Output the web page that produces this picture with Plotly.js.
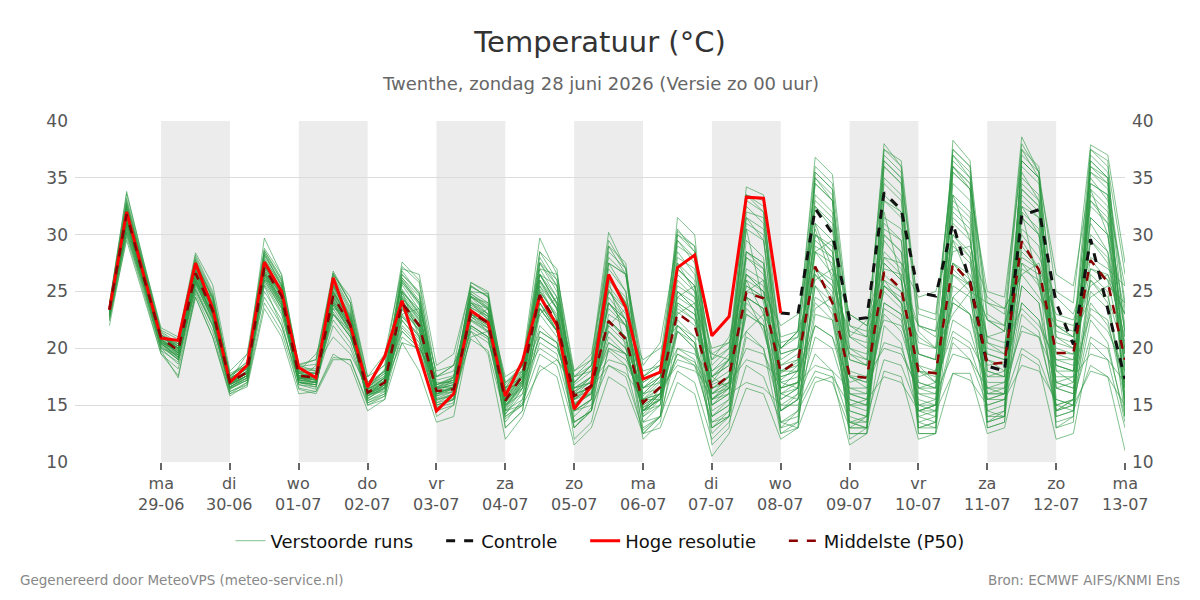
<!DOCTYPE html>
<html>
<head>
<meta charset="utf-8">
<script src="https://cdn.plot.ly/plotly-3.0.1.min.js"></script>
<style>html,body{margin:0;padding:0;background:#fff;}#chart{width:1200px;height:600px;}</style>
</head>
<body>
<div id="chart"></div>
<script>
// time axis: 6-hourly steps from 28-06 06:00 to 13-07 00:00 (60 points)
const startTime = '2026-06-28T06:00:00';
const stepHours = 6;
const nPoints = 60;

const tickDates = ['2026-06-29','2026-06-30','2026-07-01','2026-07-02','2026-07-03','2026-07-04','2026-07-05','2026-07-06','2026-07-07','2026-07-08','2026-07-09','2026-07-10','2026-07-11','2026-07-12','2026-07-13'];
const tickDays = ['ma','di','wo','do','vr','za','zo','ma','di','wo','do','vr','za','zo','ma'];
const tickLabels = ['29-06','30-06','01-07','02-07','03-07','04-07','05-07','06-07','07-07','08-07','09-07','10-07','11-07','12-07','13-07'];
const shadedDays = [['2026-06-29','2026-06-30'],['2026-07-01','2026-07-02'],['2026-07-03','2026-07-04'],['2026-07-05','2026-07-06'],['2026-07-07','2026-07-08'],['2026-07-09','2026-07-10'],['2026-07-11','2026-07-12']];
const seriesNames = ['Verstoorde runs','Controle','Hoge resolutie','Middelste (P50)'];

// Hoge resolutie (first 40 points, up to 08-07 00:00)
const hres = [23.4,32.0,26.4, 20.9,20.7,27.5,23.5, 17.0,18.5,27.6,25.0, 18.3,17.4,26.2,22.0, 16.6,19.3,24.2,19.4, 14.5,16.0,23.3,22.25, 15.8,18.9,24.6,22.0, 14.65,16.7,26.5,23.6, 17.3,17.9,27.1,28.2, 21.1,22.8,33.3,33.2, 23.1];
// Controle (from 08-07 00:00, index 39)
const controlStart = 39;
const control = [23.1,23.0,32.3,30.1, 22.5,22.7,33.7,32.2, 24.9,24.6,31.0,25.8, 18.45,18.0,31.7,32.2, 24.0,20.35,29.6,23.4, 17.3];
// Middelste (P50)
const p50 = [23.4,31.8,26.2, 20.9,19.8,26.6,23.3, 17.0,17.9,27.1,24.6, 17.6,17.4,24.6,22.0, 16.1,17.0,24.0,22.0, 16.25,16.4,23.1,22.25, 15.4,17.6,24.7,22.25, 15.8,16.7,22.4,20.8, 15.2,16.6,23.1,22.0, 16.4,17.6,24.9,24.4, 17.9,18.9,27.2,24.0, 17.6,17.4,26.7,25.2, 18.0,17.8,27.45,25.8, 18.6,18.75,29.4,26.9, 19.6,19.6,27.75,25.8, 19.0];

// Verstoorde runs (ensemble members)
const m01 = [23.5,32.8,27.0, 21.0,20.6,27.8,24.2, 17.2,18.4,28.0,25.4, 17.8,17.6,25.8,22.6, 16.4,18.2,25.6,23.4, 15.8,17.5,24.8,23.6, 15.2,17.2,26.5,23.8, 15.0,16.2,25.2,22.5, 14.2,15.8,26.0,24.5, 15.5,16.8,29.5,28.0, 16.5,18.0,32.5,30.5, 17.5,16.5,34.5,33.0, 18.5,17.0,36.5,35.0, 20.5,19.5,35.5,33.0, 18.0,17.0,33.5,32.0, 22.0];
const m02 = [23.2,31.5,26.2, 20.5,19.8,26.2,23.0, 16.8,17.6,27.2,24.8, 17.4,17.0,24.8,21.8, 15.8,16.5,23.5,21.5, 16.0,16.2,22.5,21.8, 14.8,17.0,24.0,21.5, 15.5,16.5,21.5,20.0, 14.5,15.5,22.0,20.5, 14.0,15.0,23.5,22.0, 15.0,16.0,25.5,23.0, 14.5,14.0,26.0,24.0, 15.0,14.5,27.5,25.5, 16.5,16.0,29.0,27.0, 17.0,16.5,26.0,24.0, 16.5];
const m03 = [23.0,30.5,25.5, 20.2,19.0,25.8,22.5, 16.5,17.2,26.5,24.0, 17.0,16.8,23.8,21.5, 15.5,16.8,22.0,20.5, 15.0,15.5,21.8,20.8, 14.5,15.5,20.5,19.5, 13.5,14.5,19.8,18.5, 12.5,14.0,20.0,19.0, 13.0,14.5,21.5,20.0, 14.5,15.5,19.5,18.0, 13.5,13.0,22.0,20.5, 14.0,14.5,20.5,19.0, 15.0,15.5,23.0,21.5, 14.5,15.0,22.5,20.5, 13.5];
const m04 = [23.8,33.2,27.4, 21.4,20.2,27.5,24.5, 17.4,18.2,27.8,25.6, 18.0,17.8,25.5,22.8, 16.6,17.4,25.8,23.8, 16.4,16.8,24.2,23.0, 15.8,18.0,27.0,24.5, 16.2,17.5,27.5,25.0, 16.0,17.5,28.5,26.5, 17.5,19.0,32.5,31.0, 19.0,20.0,35.0,33.5, 20.0,19.0,37.0,35.5, 21.5,20.0,37.5,36.0, 23.0,22.0,38.0,35.5, 21.0,20.0,36.5,35.0, 24.0];
const m05 = [23.4,31.2,26.0, 20.8,19.5,26.4,23.2, 17.0,17.8,26.8,24.4, 17.5,17.2,24.2,21.8, 16.0,16.8,24.2,22.2, 16.5,16.6,23.0,22.4, 15.6,17.8,25.0,22.8, 16.2,17.0,22.5,21.0, 15.8,17.2,23.8,22.5, 17.0,18.0,24.5,23.5, 18.5,19.5,26.5,24.5, 18.0,17.5,25.5,24.0, 17.5,18.0,24.0,23.0, 19.5,19.0,27.5,25.5, 20.0,19.5,26.0,24.5, 19.5];
const m06 = [23.6,32.0,26.6, 20.6,19.6,27.0,23.6, 16.6,17.4,27.6,25.0, 17.2,17.0,25.0,22.2, 15.6,16.4,25.2,23.0, 15.4,16.0,24.5,23.0, 14.6,16.8,26.0,23.5, 14.5,15.5,26.5,24.0, 13.5,15.0,27.5,26.0, 14.0,15.5,31.0,30.0, 14.5,16.0,33.5,32.0, 13.5,13.0,35.0,33.5, 13.5,13.0,36.0,34.5, 14.0,14.5,36.5,35.0, 14.0,14.5,35.5,34.0, 15.0];
const m07 = [22.8,30.8,25.8, 20.4,19.2,25.2,22.0, 16.8,18.0,26.0,23.5, 17.6,17.4,23.0,21.0, 16.2,17.2,21.5,20.0, 17.0,17.0,21.5,20.5, 16.5,17.5,20.0,19.0, 16.5,17.0,19.0,18.5, 16.0,16.5,18.5,18.0, 16.5,17.0,19.0,18.5, 17.5,18.0,22.0,21.0, 17.0,17.5,20.0,19.5, 16.5,17.0,21.5,20.5, 17.5,18.0,24.0,22.5, 18.5,18.0,23.0,21.5, 18.0];
const m08 = [23.3,31.8,26.4, 21.2,20.0,26.8,23.4, 17.1,17.8,27.4,24.8, 17.8,17.4,24.5,22.0, 16.2,17.0,24.6,22.6, 16.2,16.6,23.4,22.2, 15.4,17.4,25.2,22.6, 15.8,17.2,24.0,22.0, 15.5,17.0,25.0,23.5, 16.8,17.5,26.5,25.0, 17.2,18.5,28.5,26.5, 17.5,17.0,29.5,27.5, 18.0,17.5,31.0,29.5, 19.5,19.0,32.5,30.0, 20.5,20.0,31.0,28.5, 20.5];
const m09 = [23.0,31.0,25.8, 20.0,19.4,25.8,22.4, 16.2,17.0,26.2,23.8, 16.8,16.6,24.0,21.4, 15.4,16.0,23.0,21.0, 14.8,15.2,22.0,21.0, 13.8,15.0,23.0,21.0, 13.0,14.5,22.5,21.0, 12.0,13.5,21.5,20.0, 12.5,14.0,24.0,22.5, 13.0,14.5,25.5,24.0, 12.5,12.5,27.5,26.0, 13.0,13.0,29.5,28.0, 13.5,14.0,31.5,30.0, 13.5,14.0,33.0,31.5, 14.5];
const m10 = [24.0,33.6,27.6, 21.6,20.8,28.2,25.0, 17.6,18.8,28.6,26.0, 18.2,18.2,26.4,23.6, 16.8,17.8,26.8,24.8, 16.6,17.0,25.5,24.5, 16.5,18.5,28.0,25.5, 17.0,18.5,29.5,27.0, 17.5,19.0,30.5,28.5, 18.5,20.0,33.5,32.0, 20.0,21.5,36.0,34.5, 21.0,20.5,38.0,36.0, 22.0,21.5,37.0,35.0, 22.5,21.5,37.5,35.0, 22.0,21.0,37.5,36.0, 26.5];
const m11 = [23.1,31.0,25.8, 20.6,19.2,26.0,23.0, 16.9,17.6,26.4,23.8, 17.4,17.0,23.5,21.2, 16.0,16.2,22.8,21.0, 15.5,15.8,22.5,21.5, 15.0,16.5,23.5,21.5, 15.5,16.0,21.0,19.5, 14.8,15.5,21.5,20.5, 15.5,16.5,23.0,22.0, 16.5,17.0,24.0,22.5, 16.0,15.5,23.0,21.5, 16.5,16.0,24.5,23.0, 17.0,17.0,25.5,24.0, 17.0,16.5,24.0,22.0, 17.0];
const m12 = [23.5,32.2,26.8, 20.9,20.4,27.2,24.0, 17.2,18.2,27.6,25.0, 17.6,17.6,25.2,22.4, 16.4,17.2,26.0,24.0, 16.8,17.5,25.0,24.0, 16.0,18.5,28.5,26.0, 16.8,18.0,29.0,26.5, 15.5,16.5,30.0,28.5, 16.0,17.5,33.5,32.5, 17.5,18.0,35.5,34.0, 15.5,15.0,36.0,34.5, 16.0,15.5,38.3,36.5, 18.0,17.5,36.0,34.5, 16.5,16.0,37.0,35.5, 21.0];
const m13 = [22.6,30.0,25.2, 19.8,18.8,25.4,22.2, 16.4,17.4,25.8,23.2, 17.0,17.6,22.5,20.5, 15.8,16.5,21.0,19.8, 15.5,16.0,20.8,19.8, 14.0,15.2,19.5,18.5, 13.0,14.8,18.5,17.5, 12.8,14.0,18.0,17.0, 12.0,13.5,18.5,17.5, 13.5,14.5,17.5,17.0, 13.0,14.0,19.0,18.5, 14.5,15.0,21.0,20.0, 15.5,15.5,20.0,19.0, 15.0,14.5,18.5,17.5, 11.0];
const m14 = [23.3,31.4,26.2, 20.9,19.8,26.6,23.4, 17.0,17.9,27.0,24.6, 17.6,17.3,24.6,22.0, 16.0,17.0,24.0,22.0, 16.2,16.4,23.2,22.3, 15.4,17.6,24.8,22.2, 15.8,16.8,22.4,20.8, 15.2,16.6,23.2,22.0, 16.4,17.6,25.0,24.5, 17.8,18.8,27.0,24.0, 17.6,17.4,26.5,25.0, 18.0,17.8,27.5,26.0, 18.5,18.8,29.5,27.0, 19.6,19.5,27.8,26.0, 19.0];
const m15 = [23.7,32.6,27.0, 21.0,20.0,27.4,24.0, 16.8,17.6,28.2,25.8, 17.2,17.0,26.2,23.4, 15.8,16.8,26.5,24.8, 15.2,16.0,25.8,24.8, 14.2,16.5,27.5,25.5, 14.0,15.5,28.5,27.0, 14.5,15.5,29.5,28.0, 15.0,16.0,32.0,31.5, 15.5,16.5,34.5,33.0, 14.5,14.0,36.5,35.0, 14.0,13.5,35.5,34.0, 14.5,14.0,37.0,35.5, 15.5,15.0,36.0,35.0, 17.5];
const m16 = [23.2,31.6,26.2, 20.7,19.6,26.0,22.8, 16.9,17.8,26.6,24.0, 17.8,17.4,24.0,21.6, 16.2,17.0,23.4,21.6, 16.5,16.8,24.0,22.8, 15.8,17.8,26.5,24.0, 16.5,17.0,24.0,22.5, 15.0,16.0,21.5,20.0, 15.5,16.5,25.5,24.5, 18.0,19.0,30.0,28.5, 19.5,19.0,25.0,23.5, 17.0,16.5,22.5,21.5, 16.5,16.5,27.0,26.0, 19.0,18.5,29.5,27.5, 20.0];
const m17 = [23.9,33.0,27.2, 21.5,20.4,28.0,24.8, 17.5,18.6,29.7,26.5, 18.4,18.6,26.6,24.0, 17.0,18.6,27.6,26.0, 17.5,18.5,25.8,25.0, 16.5,18.8,29.7,26.5, 17.5,19.0,30.2,27.0, 16.5,18.0,30.3,29.0, 17.0,19.0,34.2,33.5, 20.0,21.5,36.8,35.3, 22.0,21.0,37.5,36.5, 23.0,22.5,36.0,34.5, 24.0,23.0,38.6,35.5, 25.0,24.0,37.9,37.0, 27.5];
const m18 = [22.9,30.6,25.6, 20.3,19.0,25.6,22.6, 16.6,17.4,26.2,23.6, 17.0,17.0,22.0,20.0, 16.0,16.6,21.8,20.2, 16.5,17.0,22.0,21.0, 15.0,16.0,21.0,20.0, 15.5,16.5,20.5,19.5, 15.5,16.0,19.5,18.8, 16.0,16.5,20.0,19.5, 16.5,17.0,18.5,18.0, 16.5,16.5,20.5,20.0, 16.0,16.0,19.5,19.0, 16.5,17.0,21.5,21.0, 17.5,17.5,19.5,19.0, 17.0];
const m19 = [23.4,32.0,26.6, 21.0,20.2,26.4,23.6, 17.1,18.0,27.4,24.6, 17.6,17.6,25.4,22.6, 16.3,17.4,24.8,22.8, 16.0,16.6,23.8,22.8, 15.6,17.6,25.8,23.4, 15.6,16.8,25.0,23.0, 16.0,17.5,25.5,24.5, 17.5,19.0,28.0,26.5, 19.5,20.0,29.5,28.0, 20.0,19.5,28.5,27.0, 20.5,20.0,30.0,28.0, 21.0,21.5,31.5,30.0, 22.0,21.5,33.0,31.0, 23.0];
const m20 = [23.0,31.2,25.8, 20.4,19.4,26.2,22.8, 16.4,17.2,26.8,24.2, 17.0,16.6,24.4,21.8, 15.2,15.8,23.8,21.8, 15.0,15.5,23.5,22.0, 13.5,15.5,24.0,22.0, 13.0,14.5,24.5,22.5, 12.5,14.0,25.0,23.5, 11.5,13.0,24.5,23.5, 12.5,13.0,27.0,26.0, 12.0,13.0,28.0,26.5, 12.5,12.5,26.5,25.0, 13.0,13.5,27.5,26.5, 13.0,14.0,26.5,25.0, 14.0];
const m21 = [23.6,32.4,26.8, 21.1,20.0,27.2,23.8, 17.0,18.0,28.4,25.5, 17.9,17.8,25.6,22.8, 16.6,17.8,26.2,24.2, 16.8,17.2,24.5,23.5, 16.2,18.2,27.5,25.0, 17.0,18.5,26.5,24.0, 16.5,17.5,27.0,25.5, 18.0,19.5,31.5,29.5, 20.5,21.0,33.0,31.5, 21.0,20.0,30.0,28.5, 19.5,19.0,32.5,31.0, 20.0,19.5,34.5,33.0, 21.5,21.0,35.5,34.5, 23.5];
const m22 = [23.1,31.4,26.0, 20.6,19.4,26.6,23.2, 16.8,17.6,26.8,24.2, 17.2,17.0,24.0,21.6, 15.8,16.6,24.2,22.0, 16.2,16.4,23.0,22.0, 15.2,17.0,24.5,21.5, 16.0,16.5,20.0,19.0, 15.5,15.5,19.5,18.5, 13.5,14.0,21.0,20.0, 12.5,13.5,23.0,22.5, 13.5,14.0,25.5,24.5, 14.5,15.0,27.0,25.5, 15.5,16.0,25.5,24.0, 14.5,15.5,23.5,22.5, 15.5];
const m23 = [23.5,32.0,26.6, 20.8,19.8,27.0,23.8, 17.0,17.8,27.8,25.2, 17.4,17.2,25.4,22.6, 16.0,17.2,25.0,23.4, 16.0,16.6,24.6,23.6, 15.4,17.2,26.0,24.0, 15.5,16.8,27.0,25.0, 15.0,16.0,28.0,27.0, 16.0,17.0,30.5,29.5, 17.0,17.5,32.5,31.0, 17.5,17.0,33.0,31.5, 17.0,16.5,33.5,32.0, 18.0,17.5,34.0,32.5, 18.5,18.0,34.5,33.5, 19.5];
const m24 = [22.7,30.2,25.4, 20.1,19.0,25.2,22.0, 16.6,17.6,25.6,23.0, 17.4,17.4,23.2,21.0, 16.4,17.4,22.4,20.8, 16.8,17.2,22.8,21.5, 16.4,17.0,21.0,20.0, 16.0,16.5,18.5,17.8, 15.5,16.0,19.0,18.5, 15.5,16.0,17.0,16.5, 15.0,15.0,18.0,17.5, 15.0,15.5,17.5,17.0, 14.5,14.5,17.8,17.2, 15.0,15.5,18.5,18.0, 15.5,15.0,18.0,17.5, 15.0];
const m25 = [23.3,32.2,26.6, 20.8,19.7,26.8,23.6, 16.8,17.6,27.4,24.8, 17.3,17.0,25.0,22.4, 15.6,16.5,25.0,23.2, 15.6,16.2,24.6,23.4, 14.8,16.8,26.0,23.5, 14.5,15.5,25.5,23.5, 14.0,15.5,26.5,25.0, 14.5,15.5,28.5,27.5, 14.5,15.5,31.0,29.5, 13.5,13.5,33.5,32.0, 13.0,13.5,34.5,33.0, 13.5,14.5,35.0,33.5, 14.5,15.5,34.0,32.5, 15.0];
const m26 = [23.5,31.6,26.4, 21.2,20.2,26.4,23.6, 17.3,18.4,26.6,24.8, 18.2,18.0,24.8,22.6, 16.8,18.0,24.4,22.8, 17.2,17.6,23.6,22.8, 16.8,18.5,25.0,23.0, 17.5,18.0,23.5,22.0, 17.0,18.0,24.0,23.0, 18.0,19.0,25.5,24.5, 20.0,21.0,27.0,25.5, 21.5,21.0,26.0,25.0, 22.0,21.5,27.5,26.5, 22.5,22.0,28.0,27.0, 23.0,22.5,27.0,26.0, 23.0];
const m27 = [23.2,31.8,26.4, 20.7,19.9,26.8,23.4, 16.9,17.8,27.2,24.6, 17.5,17.2,24.6,22.0, 16.0,17.0,24.4,22.4, 16.0,16.4,23.6,22.6, 15.2,17.2,24.0,21.5, 15.0,16.0,20.5,19.5, 14.5,16.0,24.0,23.0, 16.5,17.5,28.5,27.5, 18.0,18.5,27.0,25.5, 16.5,16.0,31.5,30.5, 18.5,18.0,29.0,27.5, 19.0,18.5,30.5,29.0, 19.5,19.0,31.5,30.0, 21.5];
const m28 = [22.9,30.8,25.6, 20.4,19.2,25.8,22.6, 16.6,17.6,26.4,23.8, 17.4,17.2,23.8,21.4, 16.0,16.8,22.8,21.2, 16.4,16.8,22.4,21.4, 15.5,16.5,22.0,20.5, 15.0,16.0,21.5,20.0, 14.5,15.5,22.5,21.0, 14.0,15.0,23.0,22.0, 14.5,15.5,21.0,20.0, 15.0,15.0,23.5,22.5, 15.0,15.5,24.0,23.0, 15.5,16.0,22.0,21.0, 15.0,15.5,21.0,20.0, 14.0];
const m29 = [23.6,32.6,27.0, 21.0,20.2,27.6,24.4, 17.3,18.2,28.2,25.6, 17.9,17.8,26.0,23.2, 16.2,17.4,26.2,24.6, 16.0,16.6,25.4,24.6, 15.0,17.0,27.6,26.0, 15.0,16.5,29.0,27.5, 14.5,16.5,31.5,30.0, 15.5,17.0,33.5,33.0, 16.0,17.0,35.5,34.0, 15.0,14.5,36.0,34.5, 15.0,15.0,37.5,36.0, 16.0,16.0,36.5,35.0, 16.5,17.0,36.0,34.5, 18.0];
const m30 = [23.3,31.2,26.0, 20.6,19.6,26.2,23.0, 16.8,17.6,26.6,24.2, 17.6,17.2,24.2,21.8, 15.9,16.8,23.6,21.6, 15.8,16.2,22.8,21.8, 15.0,16.8,23.5,21.5, 15.2,16.0,22.5,21.0, 14.8,16.0,23.5,22.5, 16.0,17.0,26.0,25.0, 16.5,17.0,24.5,23.5, 16.0,15.5,24.0,23.0, 15.5,15.0,25.5,24.5, 16.0,16.0,24.0,22.5, 16.5,16.0,25.0,23.5, 16.0];
const m31 = [23.0,30.2,25.0, 20.0,18.6,24.8,21.5, 16.0,17.0,25.5,22.0, 17.2,18.5,21.0,19.5, 16.5,17.0,20.5,20.0, 17.5,18.5,23.0,22.0, 14.5,15.0,18.0,19.0, 17.0,18.5,24.0,22.0, 19.0,20.0,22.0,21.0, 19.5,19.0,21.5,23.0, 20.0,21.5,26.0,27.0, 23.0,22.0,25.5,24.0, 21.0,20.0,23.0,25.0, 24.0,23.5,26.5,24.5, 22.0,21.0,24.5,25.5, 24.0];
const m32 = [23.4,31.8,26.2, 20.8,19.6,26.2,23.0, 17.2,19.5,26.0,23.5, 18.0,19.5,23.0,21.0, 16.8,17.5,26.5,25.0, 17.5,18.0,24.0,23.5, 17.5,18.5,26.5,24.0, 18.0,19.0,25.0,23.5, 17.5,18.5,23.0,24.0, 19.0,21.0,26.5,25.0, 22.0,23.0,30.5,26.0, 21.0,22.5,28.0,27.5, 24.5,25.0,29.5,26.0, 22.5,21.5,30.0,28.0, 24.5,23.0,28.0,27.0, 25.5];
const m33 = [22.5,29.5,24.5, 19.5,18.2,24.5,21.0, 15.8,16.8,24.0,21.5, 16.5,16.2,19.5,18.5, 14.5,15.5,20.5,18.0, 13.5,14.0,21.5,19.5, 12.0,14.0,18.5,17.5, 11.5,13.0,17.5,16.5, 12.5,13.0,17.0,16.0, 10.5,12.5,16.5,16.0, 12.0,13.0,17.0,17.5, 11.5,12.5,18.0,17.5, 12.0,12.5,17.8,17.8, 12.5,13.0,19.5,18.5, 12.0,12.5,20.5,19.0, 13.0];
const m34 = [23.6,32.4,26.8, 21.2,20.4,27.8,24.6, 17.6,18.8,28.6,26.2, 18.5,19.0,26.8,24.0, 17.5,19.5,27.0,26.5, 18.5,19.5,25.5,24.5, 17.0,18.5,27.0,26.5, 18.0,19.5,28.0,26.5, 18.5,20.5,29.5,27.5, 19.5,20.5,26.0,23.0, 17.0,16.5,22.0,21.0, 15.5,15.0,24.0,23.0, 14.5,15.0,26.5,25.5, 16.0,16.5,28.5,27.0, 17.0,17.5,29.5,28.0, 19.5];
const m35 = [22.0,29.8,24.8, 19.5,17.6,24.5,21.0, 16.0,16.6,23.5,21.0, 16.0,16.2,19.2,19.0, 15.0,15.8,21.5,20.0, 14.0,15.0,23.0,22.5, 13.0,14.5,23.5,22.5, 12.0,13.5,20.0,19.5, 14.5,15.0,22.0,20.5, 13.0,14.0,24.5,23.5, 13.5,13.0,26.5,25.0, 13.0,13.0,30.0,28.5, 13.5,14.0,32.0,30.5, 14.5,15.0,33.0,31.5, 15.0,15.5,31.5,30.0, 16.5];
const m36 = [23.7,33.8,27.5, 21.8,21.0,28.4,25.6, 18.0,19.5,28.8,26.5, 18.6,19.0,26.5,24.5, 17.5,18.5,26.0,24.0, 16.5,17.5,24.5,24.0, 16.0,17.5,26.5,25.5, 16.5,17.5,27.5,26.5, 17.5,18.5,29.0,28.0, 19.0,20.0,31.5,30.5, 21.0,21.5,34.5,33.0, 22.0,21.5,36.5,35.0, 23.5,23.0,36.0,34.0, 25.0,24.5,36.5,35.0, 26.5,25.5,35.0,33.0, 25.5];
const m37 = [23.4,31.2,26.6, 21.0,20.0,25.8,24.5, 17.6,18.5,26.0,25.5, 18.5,18.0,23.5,23.0, 17.0,18.0,23.0,23.5, 18.0,18.5,22.5,23.5, 17.0,18.0,23.0,24.5, 17.5,18.5,22.0,23.5, 18.0,18.5,24.5,25.5, 20.0,20.5,25.0,26.0, 19.5,20.0,28.5,29.5, 23.0,22.0,27.0,26.5, 22.0,21.0,28.5,29.0, 24.5,23.5,26.5,27.5, 22.5,22.0,25.5,26.5, 23.0];
const m38 = [23.2,31.6,26.0, 20.5,19.0,26.0,22.8, 16.5,17.2,27.0,24.5, 16.8,16.4,25.0,22.5, 15.0,15.5,24.5,22.5, 14.5,15.0,24.0,22.5, 13.0,14.5,25.5,23.5, 13.5,14.5,26.0,24.0, 13.5,14.0,27.0,25.5, 13.0,14.0,28.0,27.0, 13.0,13.5,30.0,29.0, 12.5,12.5,33.0,32.0, 12.5,12.5,35.5,34.0, 13.0,13.5,34.0,32.5, 13.0,13.5,36.5,35.0, 14.0];
const m39 = [23.3,31.0,26.0, 20.8,19.4,25.6,23.8, 17.8,18.5,24.5,22.0, 17.0,16.8,23.0,21.5, 16.8,18.0,25.0,21.0, 15.0,15.5,21.0,21.5, 16.5,17.5,21.5,20.5, 14.5,15.0,24.0,22.5, 16.5,17.0,20.0,19.5, 17.5,16.5,24.5,21.5, 16.0,15.5,23.5,24.5, 19.5,18.5,22.5,22.0, 18.0,17.0,24.5,26.0, 21.0,20.5,23.5,22.0, 19.0,19.0,27.0,26.5, 21.0];
const m40 = [23.8,32.8,27.2, 21.2,20.0,27.6,24.4, 17.0,17.8,28.4,26.0, 17.0,16.8,26.6,24.0, 16.0,17.0,27.2,25.8, 15.8,16.5,25.0,24.8, 14.5,16.5,28.5,27.0, 15.0,16.5,27.5,26.5, 14.5,16.0,30.0,29.0, 15.0,16.5,33.0,32.0, 15.5,16.5,35.0,33.0, 14.0,13.5,37.5,36.0, 14.5,14.0,37.0,35.5, 14.0,14.0,37.5,36.0, 14.5,15.0,37.5,36.5, 16.5];
const m41 = [23.6,32.2,26.8, 21.0,20.0,27.0,23.4, 17.4,18.2,27.6,25.0, 18.0,17.8,25.0,22.0, 16.4,17.4,25.0,23.0, 16.6,17.2,24.0,23.0, 15.6,17.5,25.5,22.5, 16.0,17.5,26.0,20.0, 16.5,17.5,27.5,25.0, 17.5,18.5,30.5,24.0, 18.0,18.0,31.0,27.0, 19.0,18.5,32.0,26.0, 19.5,19.0,33.5,29.5, 19.0,18.0,32.0,25.5, 18.5,18.0,34.0,30.0, 20.0];
const m42 = [22.4,30.4,25.4, 19.8,17.4,25.0,22.0, 16.2,16.8,25.0,22.5, 16.4,16.0,19.0,19.0, 15.2,16.0,22.5,20.5, 14.8,15.5,22.0,21.0, 14.0,15.0,21.5,20.5, 14.5,15.5,23.0,22.0, 14.0,15.0,25.0,24.0, 15.0,16.0,27.0,26.0, 16.0,16.5,29.0,28.0, 16.0,16.0,27.5,26.0, 16.5,16.5,30.0,28.5, 17.5,17.5,32.0,30.5, 18.0,18.0,30.0,28.5, 18.5];
const m43 = [23.5,32.2,26.6, 21.0,20.0,26.8,23.8, 17.2,18.0,27.2,25.0, 17.8,17.6,25.6,23.0, 16.6,17.6,25.8,24.0, 16.8,17.4,24.8,23.8, 16.2,18.0,26.5,24.5, 16.5,17.5,26.0,24.5, 17.0,18.0,27.0,25.5, 17.5,18.5,28.5,27.0, 18.5,19.0,30.0,28.5, 19.0,18.5,31.0,29.5, 19.5,19.0,33.0,31.5, 20.5,20.0,33.5,32.0, 21.0,20.5,32.5,31.0, 21.5];
const m44 = [23.1,31.2,25.9, 20.5,19.2,26.0,22.8, 16.6,17.4,26.6,24.0, 17.0,16.8,24.2,21.8, 15.4,16.2,23.8,21.8, 15.2,15.6,23.0,21.8, 14.2,16.0,23.5,21.5, 13.5,14.5,22.0,20.5, 13.0,14.0,24.5,23.5, 13.5,14.5,26.5,25.5, 13.5,14.0,28.5,27.5, 13.0,13.0,30.5,29.5, 13.0,13.5,31.5,30.0, 13.5,14.0,32.5,31.5, 14.0,14.5,34.5,33.5, 15.5];
const members = [m01,m02,m03,m04,m05,m06,m07,m08,m09,m10,m11,m12,m13,m14,m15,m16,m17,m18,m19,m20,m21,m22,m23,m24,m25,m26,m27,m28,m29,m30,m31,m32,m33,m34,m35,m36,m37,m38,m39,m40,m41,m42,m43,m44];

// ---- build ----
function fmt(d){const p=n=>String(n).padStart(2,'0');return d.getUTCFullYear()+'-'+p(d.getUTCMonth()+1)+'-'+p(d.getUTCDate())+' '+p(d.getUTCHours())+':00';}
const t0 = new Date(startTime+'Z');
const times = [];
for (let i=0;i<nPoints;i++) times.push(fmt(new Date(t0.getTime()+i*stepHours*3600000)));

const FONT = 'DejaVu Sans, Verdana, sans-serif';
const PAD = '\u00a0\u00a0\u00a0\u00a0'; // extra spacing between legend entries
const traces = [];
members.forEach((m,k)=>{
  traces.push({x:times.slice(0,m.length), y:m, type:'scatter', mode:'lines',
    name:seriesNames[0]+PAD, legendgroup:'ens', showlegend:k===0,
    line:{color:'#2e9a44', width:1}, opacity:0.6, hoverinfo:'skip'});
});
traces.push({x:times.slice(controlStart, controlStart+control.length), y:control, type:'scatter', mode:'lines',
  name:seriesNames[1]+PAD, line:{color:'#111111', width:3, dash:'dash'}});
traces.push({x:times.slice(0,hres.length), y:hres, type:'scatter', mode:'lines',
  name:seriesNames[2]+PAD, line:{color:'#ff0000', width:3}});
traces.push({x:times.slice(0,p50.length), y:p50, type:'scatter', mode:'lines',
  name:seriesNames[3], line:{color:'#8b0000', width:2.5, dash:'dash'}});
// invisible trace to show right-hand axis
traces.push({x:[times[0]], y:[null], yaxis:'y2', type:'scatter', mode:'lines', showlegend:false, hoverinfo:'skip'});

const shapes = shadedDays.map(d=>({type:'rect', xref:'x', yref:'paper', x0:d[0]+' 00:00', x1:d[1]+' 00:00', y0:0, y1:1,
  fillcolor:'#ececec', line:{width:0}, layer:'below'}));

const plotH = 341;
const annotations = [
  {text:'Twenthe, zondag 28 juni 2026 (Versie zo 00 uur)', xref:'paper', yref:'paper', x:0.5, y:1+(121-83)/plotH,
    xanchor:'center', yanchor:'middle', showarrow:false, font:{family:FONT, size:18, color:'#666'}},
  {text:'Gegenereerd door MeteoVPS (meteo-service.nl)', xref:'paper', yref:'paper', x:-57/1050, y:-(580-462)/plotH,
    xanchor:'left', yanchor:'middle', showarrow:false, font:{family:FONT, size:13.5, color:'#888'}},
  {text:'Bron: ECMWF AIFS/KNMI Ens', xref:'paper', yref:'paper', x:1+57/1050, y:-(580-462)/plotH,
    xanchor:'right', yanchor:'middle', showarrow:false, font:{family:FONT, size:13.5, color:'#888'}}
];
tickDates.forEach((d,i)=>{
  annotations.push({text:tickDays[i]+'<br>'+tickLabels[i], xref:'x', yref:'paper', x:d+' 00:00', y:-(472-462)/plotH,
    xanchor:'center', yanchor:'top', showarrow:false, align:'center', font:{family:FONT, size:16, color:'#555'}});
});

const layout = {
  width:1200, height:600,
  margin:{l:75, r:75, t:121, b:138},
  paper_bgcolor:'#ffffff', plot_bgcolor:'#ffffff',
  font:{family:FONT, color:'#444'},
  title:{text:'Temperatuur (°C)', x:0.5, xanchor:'center', xref:'paper', y:1-42/600, yanchor:'middle', yref:'container',
    font:{family:FONT, size:29, color:'#333'}},
  xaxis:{type:'date', range:['2026-06-27 18:00','2026-07-13 00:00'],
    tickvals:tickDates.map(d=>d+' 00:00'), showticklabels:false,
    ticks:'outside', ticklen:7, tickwidth:2, tickcolor:'#666', showgrid:false, zeroline:false, showline:false},
  yaxis:{range:[10,40], dtick:5, tick0:10, showgrid:true, gridcolor:'#dcdcdc', gridwidth:1, zeroline:false, showline:false,
    ticks:'', ticklabelstandoff:6, tickfont:{family:FONT, size:17, color:'#555'}},
  yaxis2:{range:[10,40], dtick:5, tick0:10, overlaying:'y', side:'right', showgrid:false, zeroline:false, showline:false,
    ticks:'', ticklabelstandoff:6, tickfont:{family:FONT, size:17, color:'#555'}},
  showlegend:true,
  legend:{orientation:'h', x:0.5, xanchor:'center', y:-(541-462)/plotH, yanchor:'middle',
    font:{family:FONT, size:18, color:'#111'}, bgcolor:'rgba(0,0,0,0)', itemwidth:30, traceorder:'normal'},
  shapes:shapes,
  annotations:annotations,
  hovermode:false
};

Plotly.newPlot('chart', traces, layout, {displayModeBar:false, staticPlot:true});
</script>
</body>
</html>
